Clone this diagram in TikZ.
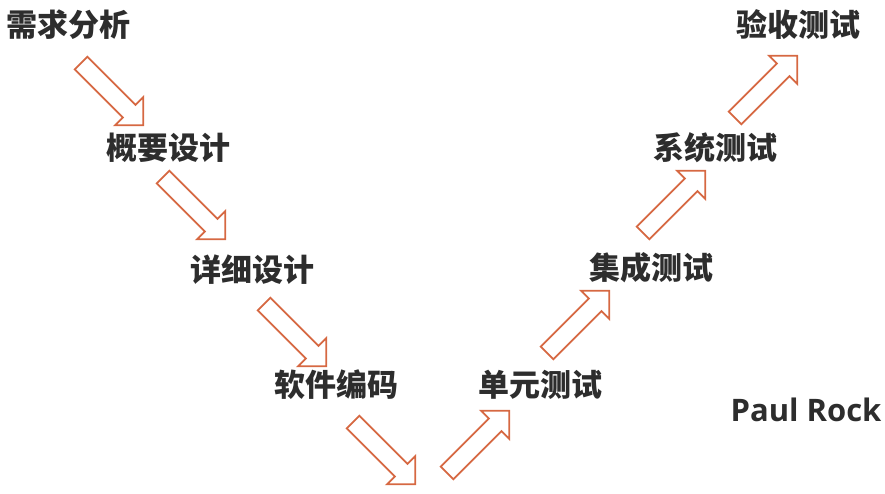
\documentclass[tikz,border=0pt]{standalone}
\usepackage{fontspec}
\setmainfont{Open Sans}
\newfontfamily\cjk{Noto Sans CJK SC}
\usetikzlibrary{shapes.arrows}
\definecolor{arr}{RGB}{214,104,66}
\definecolor{txt}{RGB}{45,45,45}
\tikzset{
  blk/.style={single arrow, draw=arr, line width=1.8pt, fill=white, inner sep=8pt, single arrow head extend=11pt, minimum height=88pt, single arrow tip angle=90},
  lab/.style={font=\cjk\bfseries\fontsize{31}{33}\selectfont, text=txt, inner sep=0pt}
}
\begin{document}
\begin{tikzpicture}[x=1pt,y=-1pt]
\useasboundingbox (0,0) rectangle (885,493);
\node[lab] (n1) at (68,25) {需求分析};
\node[lab] (n2) at (168,148) {概要设计};
\node[lab] (n3) at (252,270) {详细设计};
\node[lab] (n4) at (336,385) {软件编码};
\node[lab] (n5) at (540,385) {单元测试};
\node[lab] (n6) at (651,268) {集成测试};
\node[lab] (n7) at (715,148) {系统测试};
\node[lab] (n8) at (798,25) {验收测试};
\node[font=\bfseries\fontsize{31}{33}\selectfont, text=txt, inner sep=0pt] (pr) at (806,410) {Paul Rock};
\foreach \x/\y/\r [count=\i] in {109/91/-45,191/205/-45,292/332/-45,381/450/-45,475/445/45,575/325/45,671/205/45,763/90/45}
  \node[blk, rotate=\r] (a\i) at (\x,\y) {};
\end{tikzpicture}
\end{document}
